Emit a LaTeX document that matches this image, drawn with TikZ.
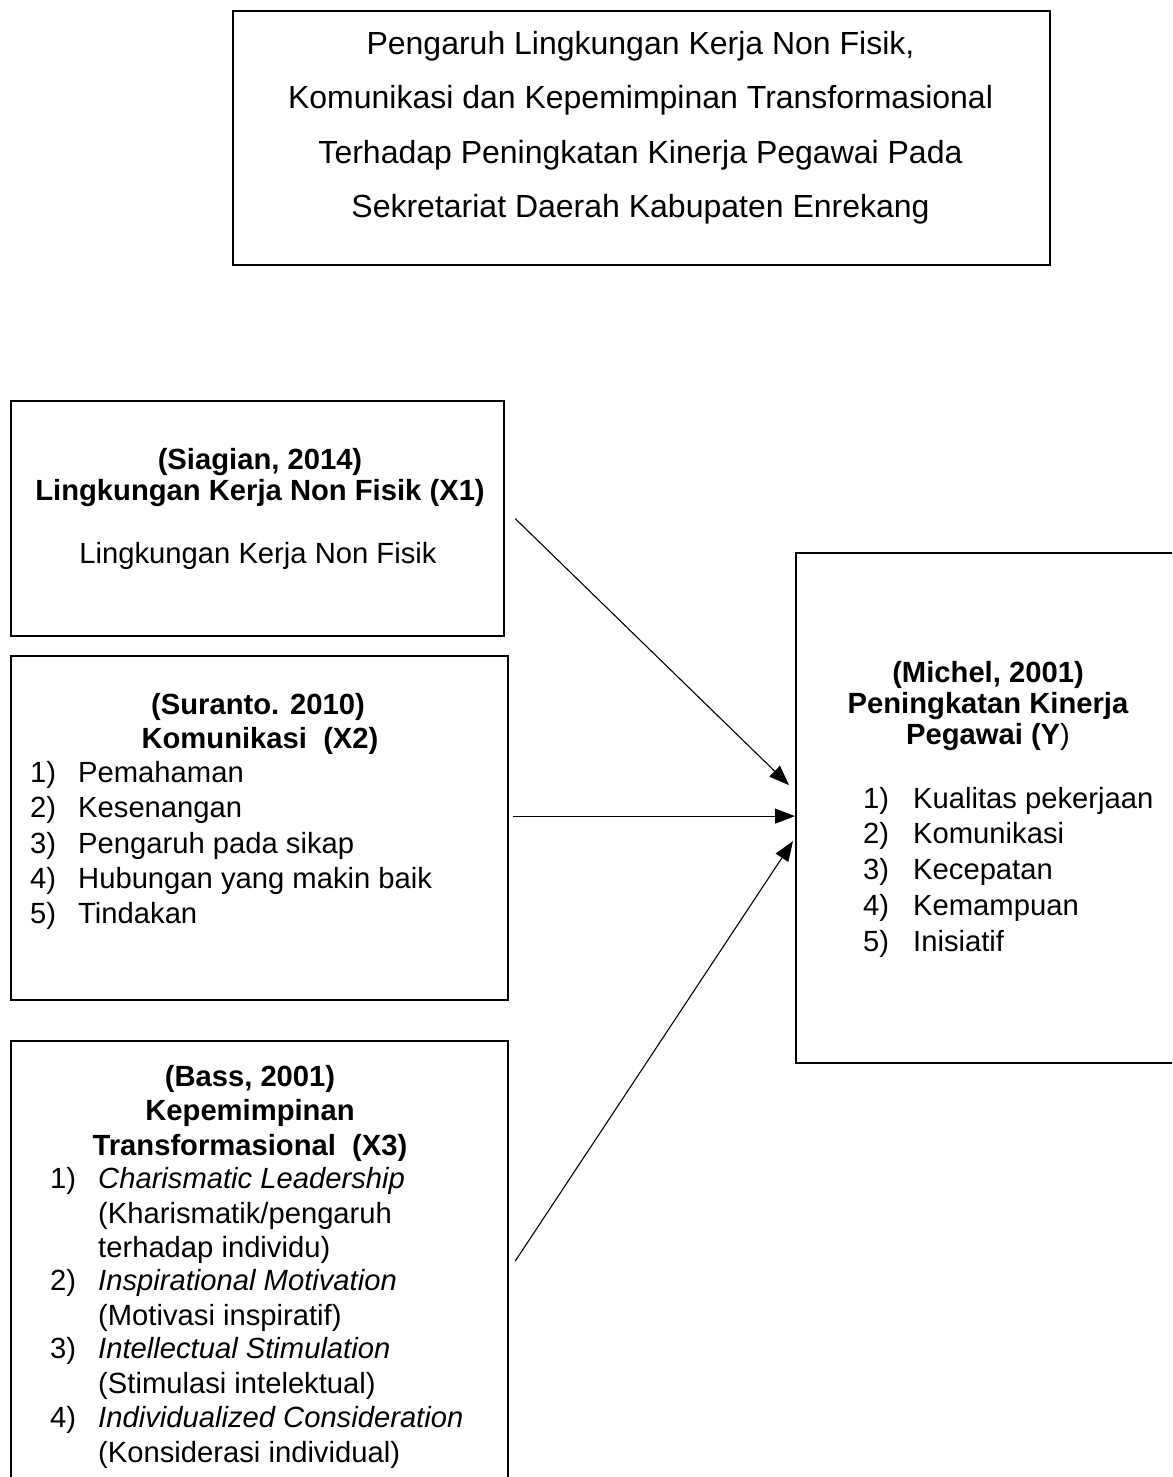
\documentclass[tikz,border=0pt]{standalone}
\usepackage{fontspec}
\setmainfont{Liberation Sans}
\usetikzlibrary{arrows.meta}
\begin{document}
\begin{tikzpicture}[x=1pt,y=-1pt,
  box/.style={draw=black,line width=2.2pt,rectangle,inner sep=0pt,anchor=north west},
  txt/.style={anchor=base,inner sep=0pt,font=\fontsize{29.2}{35}\selectfont},
  bold/.style={txt,font=\fontsize{29.2}{35}\selectfont\bfseries},
  ltxt/.style={txt,anchor=base west},
  ttl/.style={anchor=base,inner sep=0pt,font=\fontsize{32}{40}\selectfont},
  arr/.style={line width=1.1pt,-{Triangle[length=20pt,width=15pt]}}]
\useasboundingbox (0,0) rectangle (1172,1477);
\fill[white] (0,0) rectangle (1172,1477);
\clip (0,0) rectangle (1172,1477);
% title
\node[box,minimum width=817pt,minimum height=254pt] (title) at (232,10) {};
\node[ttl] (t1) at (640.5,55) {Pengaruh Lingkungan Kerja Non Fisik,};
\node[ttl] (t2) at (640.5,109) {Komunikasi dan Kepemimpinan Transformasional};
\node[ttl] (t3) at (640.5,163) {Terhadap Peningkatan Kinerja Pegawai Pada};
\node[ttl] (t4) at (640.5,217) {Sekretariat Daerah Kabupaten Enrekang};
% X1
\node[box,minimum width=493pt,minimum height=235pt] (x1) at (10,400) {};
\node[bold] (x1a) at (260,469) {(Siagian, 2014)};
\node[bold] (x1b) at (260,500) {Lingkungan Kerja Non Fisik (X1)};
\node[txt] (x1c) at (258,563) {Lingkungan Kerja Non Fisik};
% X2
\node[box,minimum width=497pt,minimum height=344pt] (x2) at (10,655) {};
\node[bold] (x2a) at (258,714) {(Suranto. 2010)};
\node[bold] (x2b) at (260,748) {Komunikasi\ \ (X2)};
\foreach \n/\t/\yy in {1/Pemahaman/782,2/Kesenangan/817,3/Pengaruh pada sikap/853,4/Hubungan yang makin baik/888,5/Tindakan/923}{
  \node[ltxt] (x2n\n) at (30,\yy) {\n)};
  \node[ltxt] (x2i\n) at (78,\yy) {\t};
}
% X3
\node[box,minimum width=497pt,minimum height=470pt] (x3) at (10,1040) {};
\node[bold] (x3a) at (250,1086) {(Bass, 2001)};
\node[bold] (x3b) at (250,1120) {Kepemimpinan};
\node[bold] (x3c) at (250,1155) {Transformasional\ \ (X3)};
\node[ltxt] (x3n1) at (50,1188) {1)};
\node[ltxt] (x3i1) at (98,1188) {\itshape Charismatic Leadership};
\node[ltxt] (x3j1) at (98,1223) {(Kharismatik/pengaruh};
\node[ltxt] (x3k1) at (98,1257) {terhadap individu)};
\node[ltxt] (x3n2) at (50,1290) {2)};
\node[ltxt] (x3i2) at (98,1290) {\itshape Inspirational Motivation};
\node[ltxt] (x3j2) at (98,1325) {(Motivasi inspiratif)};
\node[ltxt] (x3n3) at (50,1358) {3)};
\node[ltxt] (x3i3) at (98,1358) {\itshape Intellectual Stimulation};
\node[ltxt] (x3j3) at (98,1393) {(Stimulasi intelektual)};
\node[ltxt] (x3n4) at (50,1427) {4)};
\node[ltxt] (x3i4) at (98,1427) {\itshape Individualized Consideration};
\node[ltxt] (x3j4) at (98,1462) {(Konsiderasi individual)};
% Y
\node[box,minimum width=420pt,minimum height=510pt] (y) at (795,552) {};
\node[bold] (ya) at (988,682) {(Michel, 2001)};
\node[bold] (yb) at (988,713) {Peningkatan Kinerja};
\node[txt] (yc) at (988,744) {\textbf{Pegawai (Y})};
\foreach \n/\t/\yy in {1/Kualitas pekerjaan/808,2/Komunikasi/843,3/Kecepatan/879,4/Kemampuan/915,5/Inisiatif/951}{
  \node[ltxt] (yn\n) at (863,\yy) {\n)};
  \node[ltxt] (yi\n) at (913,\yy) {\t};
}
% arrows
\draw[arr] ([xshift=10pt]x1.east) -- ([xshift=-6pt,yshift=23pt]y.west);
\draw[arr] ([xshift=4pt,yshift=12pt]x2.east) -- ([yshift=-8pt]y.west);
\draw[arr] ([xshift=6pt,yshift=15pt]x3.east) -- ([xshift=-2pt,yshift=-33pt]y.west);
\end{tikzpicture}
\end{document}
